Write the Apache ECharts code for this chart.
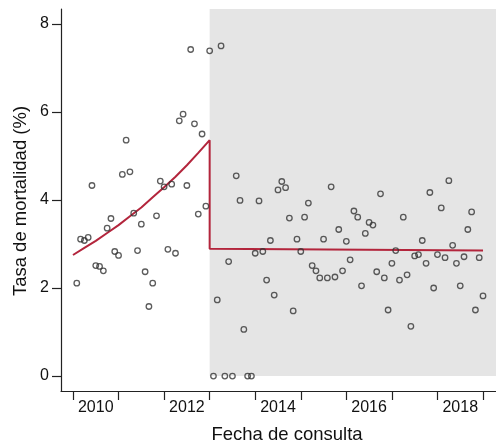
<!DOCTYPE html>
<html>
<head>
<meta charset="utf-8">
<script src="https://cdn.jsdelivr.net/npm/echarts@6/dist/echarts.min.js"></script>
<style>
html,body{margin:0;padding:0;background:#fff;}
#chart{width:496px;height:445px;}
</style>
</head>
<body>
<div id="chart"></div>
<script>
// ---- data ----
const startYear = 2010;               // monthly consultations, first at end of Jan 2010
const rates = [
  2.11,3.11,3.08,3.15,4.33,2.51,2.49,2.39,3.36,3.58,2.83,2.74,
  4.58,5.36,4.64,3.70,2.85,3.45,2.37,1.58,2.11,3.64,4.43,4.30,
  2.88,4.36,2.79,5.80,5.95,4.33,7.42,5.73,3.68,5.50,3.86,7.39,
  0,1.73,7.50,0,2.60,0,4.55,3.99,1.06,0,0,2.79,
  3.98,2.83,2.18,3.08,1.84,4.23,4.42,4.28,3.59,1.48,3.11,2.83,
  3.61,3.93,2.51,2.39,2.23,3.11,2.23,4.30,2.25,3.33,2.39,3.06,
  2.64,3.75,3.61,2.05,3.24,3.49,3.43,2.37,4.14,2.23,1.50,2.56,
  2.85,2.18,3.61,2.30,1.13,2.73,2.76,3.08,2.56,4.17,2.00,2.76,
  3.82,2.69,4.44,2.97,2.56,2.05,2.71,3.33,3.73,1.50,2.69,1.82
];
const fitTimes  = [2010.0,2010.25,2010.5,2010.75,2011.0,2011.25,2011.5,2011.75,2012.0,2012.25,2012.5,2012.75,2013.0,2013.0,2019.0];
const fitValues = [2.75,2.91,3.07,3.25,3.43,3.63,3.83,4.06,4.29,4.53,4.79,5.07,5.36,2.89,2.85];
const interventionStart = 2013.0;
const yearTicks = [2010,2011,2012,2013,2014,2015,2016,2017,2018,2019];
const yearLabels = ['2010','2012','2014','2016','2018'];
const yTicks = [0,2,4,6,8];
const xTitle = 'Fecha de consulta';
const yTitle = 'Tasa de mortalidad (%)';

// ---- build ----
const X_MIN = 2009.737, X_MAX = 2019.285, Y_MIN = -0.34, Y_MAX = 8.34;
const points = rates.map((v, i) => [startYear + (i + 1) / 12, v]);
const fitLine = fitTimes.map((t, i) => [t, fitValues[i]]);
const labelPos = yearLabels.map(s => Number(s) + 0.5);
const FONT = 'Liberation Sans, Arial, Helvetica, sans-serif';

const chart = echarts.init(document.getElementById('chart'), null, {renderer: 'canvas'});
chart.setOption({
  animation: false,
  backgroundColor: '#fff',
  grid: {left: 61, top: 9, right: 0, bottom: 54, containLabel: false},
  xAxis: {
    type: 'value', min: X_MIN, max: X_MAX,
    splitLine: {show: false},
    axisLine: {show: true, onZero: false, lineStyle: {color: '#222', width: 1.2}},
    axisTick: {show: true, customValues: yearTicks, length: 9, lineStyle: {color: '#222', width: 1.2}},
    axisLabel: {
      customValues: labelPos, margin: 9,
      color: '#111', fontSize: 16, fontFamily: FONT,
      formatter: v => String(Math.floor(v + 1e-6))
    }
  },
  yAxis: {
    type: 'value', min: Y_MIN, max: Y_MAX,
    splitLine: {show: false},
    axisLine: {show: true, onZero: false, lineStyle: {color: '#222', width: 1.2}},
    axisTick: {show: true, customValues: yTicks, length: 9, lineStyle: {color: '#222', width: 1.2}},
    axisLabel: {customValues: yTicks, margin: 12, color: '#111', fontSize: 16, fontFamily: FONT}
  },
  graphic: [
    {type: 'text', x: 287, y: 435, style: {text: xTitle, fill: '#111', font: '18.5px ' + FONT, textAlign: 'center', textVerticalAlign: 'middle'}},
    {type: 'text', x: 21, y: 201, rotation: Math.PI / 2, style: {text: yTitle, fill: '#111', font: '18.5px ' + FONT, textAlign: 'center', textVerticalAlign: 'middle'}}
  ],
  series: [
    {
      type: 'line', data: [], z: 1, silent: true,
      markArea: {
        silent: true,
        itemStyle: {color: '#e5e5e5'},
        data: [[{xAxis: interventionStart, yAxis: 0}, {xAxis: X_MAX, yAxis: Y_MAX}]]
      }
    },
    {
      type: 'line', data: fitLine, z: 3, showSymbol: false, symbol: 'none',
      lineStyle: {color: '#b3253c', width: 2}
    },
    {
      type: 'scatter', data: points, z: 4, symbol: 'circle', symbolSize: 5.5,
      itemStyle: {color: 'rgba(0,0,0,0)', borderColor: '#333', borderWidth: 1.3}
    }
  ]
});
</script>
</body>
</html>
